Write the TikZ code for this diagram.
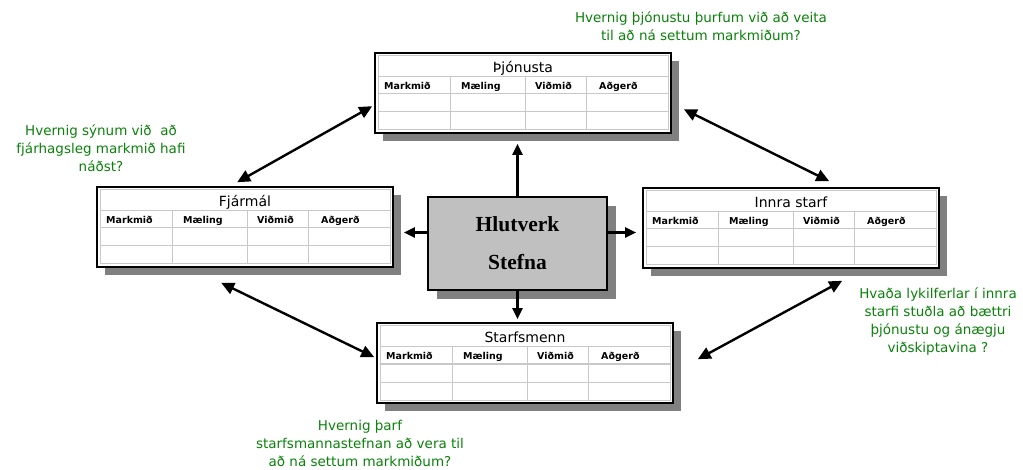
\documentclass[tikz,border=0pt]{standalone}
\usepackage{fontspec}
\setmainfont{DejaVu Sans}
\newfontfamily\ctrfont{Liberation Serif}
\usetikzlibrary{arrows.meta,calc,shadows}
\definecolor{shadowgray}{RGB}{128,128,128}
\definecolor{gridgray}{RGB}{200,200,200}
\definecolor{ctrgray}{RGB}{192,192,192}
\definecolor{qgreen}{RGB}{10,130,10}
\tikzset{
  tblbox/.style={draw=black,line width=1.6pt,fill=white,minimum width=296pt,minimum height=80pt,inner sep=0pt,
    drop shadow={shadow xshift=8pt,shadow yshift=-8pt,fill=shadowgray,opacity=1}},
  ctrbox/.style={draw=black,line width=1.4pt,fill=ctrgray,minimum width=179pt,minimum height=93pt,inner sep=0pt,
    align=center,font=\ctrfont\bfseries\fontsize{21.5}{38}\selectfont,
    drop shadow={shadow xshift=9pt,shadow yshift=-9pt,fill=shadowgray,opacity=1}},
  gridline/.style={draw=gridgray,line width=1pt},
  ttl/.style={font=\fontsize{14}{16}\selectfont,inner sep=0pt,anchor=base},
  hdr/.style={font=\bfseries\fontsize{9.5}{10}\selectfont,inner sep=0pt,anchor=base west},
  question/.style={text=qgreen,align=center,font=\fontsize{13.5}{18}\selectfont,inner sep=0pt},
  dblarrow/.style={line width=2.4pt,{Triangle[length=13pt,width=12pt]}-{Triangle[length=13pt,width=12pt]}},
  onearrow/.style={line width=2.4pt,-{Triangle[length=11pt,width=10pt]}}
}
\newcommand\kpitable[4]{%
  \node[tblbox] (#1) at (#2+148,#3+40) {};
  \draw[gridline] (#2+3,#3+3) rectangle (#2+293,#3+77);
  \draw[gridline] (#2+3,#3+24) -- (#2+293,#3+24);
  \draw[gridline] (#2+3,#3+41) -- (#2+293,#3+41);
  \draw[gridline] (#2+3,#3+59) -- (#2+293,#3+59);
  \draw[gridline] (#2+75,#3+24) -- (#2+75,#3+77);
  \draw[gridline] (#2+150,#3+24) -- (#2+150,#3+77);
  \draw[gridline] (#2+211,#3+24) -- (#2+211,#3+77);
  \node[ttl] (#1-t) at (#2+148,#3+20) {#4};
  \node[hdr] (#1-h1) at (#2+9,#3+36.5) {Markmið};
  \node[hdr] (#1-h2) at (#2+86,#3+36.5) {Mæling};
  \node[hdr] (#1-h3) at (#2+160,#3+36.5) {Viðmið};
  \node[hdr] (#1-h4) at (#2+224,#3+36.5) {Aðgerð};
}
\begin{document}
\begin{tikzpicture}[x=1pt,y=-1pt]
\useasboundingbox (0,0) rectangle (1023,470);
\kpitable{thj}{375}{53}{Þjónusta}
\kpitable{fja}{97}{187}{Fjármál}
\kpitable{inn}{643}{188}{Innra starf}
\kpitable{sta}{377}{323}{Starfsmenn}
\node[ctrbox] (ctr) at (517.5,243.5) {Hlutverk\\Stefna};
% arrows from center
\draw[onearrow] (ctr.north) -- ($(ctr.north |- thj.south)+(0,10)$);
\draw[onearrow] ($(ctr.west)+(0,-11)$) -- ($(fja.east |- ctr.west)+(10,-11)$);
\draw[onearrow] ($(ctr.east)+(0,-11)$) -- ($(inn.west |- ctr.east)+(-6,-11)$);
\draw[onearrow] (ctr.south) -- ($(ctr.south |- sta.north)+(0,-3)$);
% arrows between boxes
\draw[dblarrow] ($(fja.north west)+(141,-4)$) -- ($(thj.north west)+(-2,54)$);
\draw[dblarrow] ($(thj.north east)+(12,57)$) -- ($(inn.north west)+(187,-6)$);
\draw[dblarrow] ($(fja.south west)+(125,15)$) -- ($(sta.north west)+(-2,35)$);
\draw[dblarrow] ($(sta.north east)+(24,37)$) -- ($(inn.south west)+(200,12)$);
% questions
\node[question] (q1) at (701,26) {Hvernig þjónustu þurfum við að veita\\til að ná settum markmiðum?};
\node[question] (q2) at (101,148) {Hvernig sýnum við\ \ að\\fjárhagsleg markmið hafi\\náðst?};
\node[question] (q3) at (938,322) {Hvaða lykilferlar í innra\\starfi stuðla að bættri\\þjónustu og ánægju\\viðskiptavina ?};
\node[question] (q4) at (360,443) {Hvernig þarf\\starfsmannastefnan að vera til\\að ná settum markmiðum?};
\end{tikzpicture}
\end{document}
